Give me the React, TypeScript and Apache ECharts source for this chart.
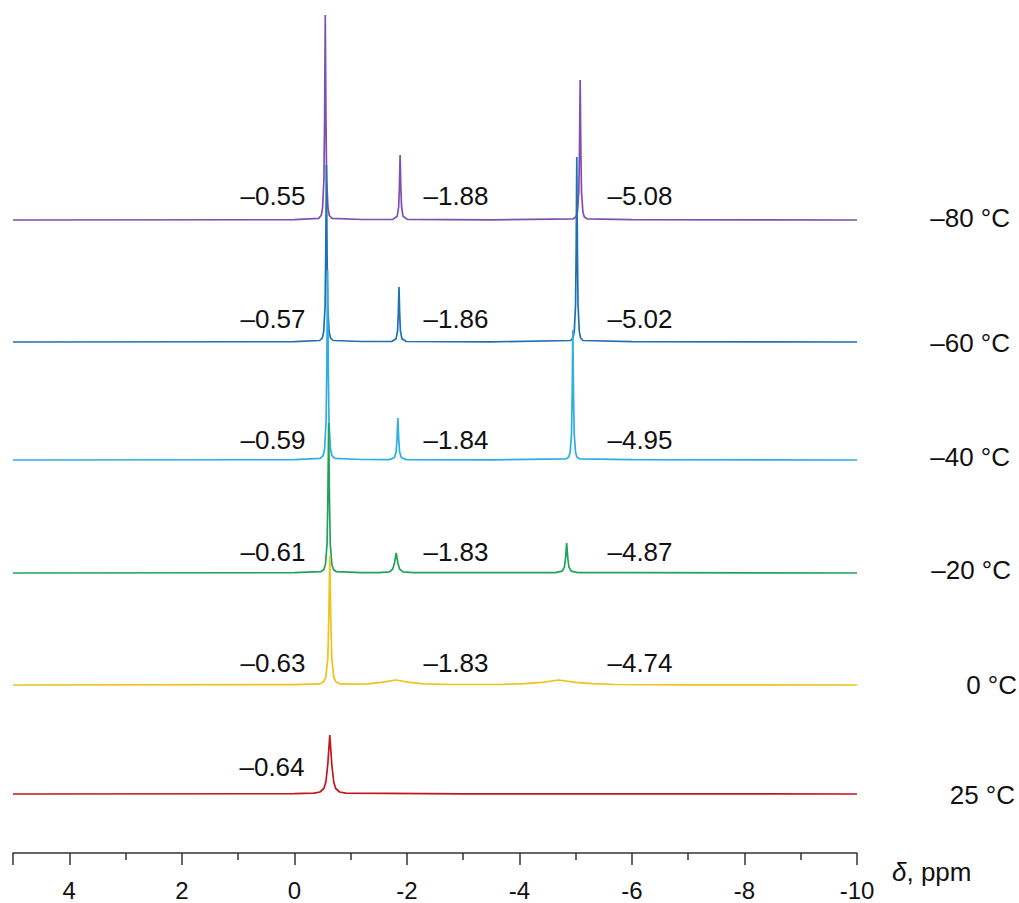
import React, { useEffect, useRef } from "react";
import * as echarts from "echarts";

// Temperature of each trace (top to bottom)
const temperatures = ["–80 °C", "–60 °C", "–40 °C", "–20 °C", "0 °C", "25 °C"];
// Vertical stacking offsets of each trace baseline (intensity units)
const baselineOffsets = [633, 511, 393, 280, 168, 59];
// Chemical-shift annotations for each trace
const shiftLabels = [
  ["–0.55", "–1.88", "–5.08"],
  ["–0.57", "–1.86", "–5.02"],
  ["–0.59", "–1.84", "–4.95"],
  ["–0.61", "–1.83", "–4.87"],
  ["–0.63", "–1.83", "–4.74"],
  ["–0.64"],
];
const xTicks = { min: -10, max: 5, interval: 2 };

// [ppm, intensity above baseline]
const specM80: [number, number][] = [
  [5, 0], [0, 0.3],
  [-0.43, 1.6], [-0.478, 4.5], [-0.502, 12], [-0.526, 41], [-0.538, 102], [-0.55, 205], [-0.562, 102], [-0.574, 41], [-0.598, 12], [-0.622, 4.5], [-0.67, 1.6],
  [-1.2, 0.5],
  [-1.75, 0.6], [-1.828, 3.8], [-1.854, 13], [-1.867, 32], [-1.88, 65], [-1.893, 32], [-1.906, 13], [-1.932, 3.8], [-2.01, 0.6],
  [-3.5, 0.2],
  [-4.96, 1.2], [-5.008, 3.2], [-5.032, 8.3], [-5.056, 28], [-5.068, 70], [-5.08, 140], [-5.092, 70], [-5.104, 28], [-5.128, 8.3], [-5.152, 3.2], [-5.2, 1.2],
  [-6, 0.3], [-10, 0],
];
const specM60: [number, number][] = [
  [5, 0], [0, 0.3],
  [-0.45, 1.5], [-0.498, 4], [-0.522, 10.4], [-0.546, 35], [-0.558, 88], [-0.57, 177], [-0.582, 88], [-0.594, 35], [-0.618, 10.4], [-0.642, 4], [-0.69, 1.5],
  [-1.2, 0.5],
  [-1.73, 0.5], [-1.808, 3.2], [-1.834, 11], [-1.847, 27], [-1.86, 55], [-1.873, 27], [-1.886, 11], [-1.912, 3.2], [-1.99, 0.5],
  [-3.5, 0.2],
  [-4.91, 1.5], [-4.954, 4.2], [-4.976, 10.9], [-4.998, 37], [-5.009, 92], [-5.02, 185], [-5.031, 92], [-5.042, 37], [-5.064, 10.9], [-5.086, 4.2], [-5.13, 1.5],
  [-6, 0.3], [-10, 0],
];
const specM40: [number, number][] = [
  [5, 0], [0, 0.3],
  [-0.46, 1.6], [-0.512, 4.3], [-0.538, 11.2], [-0.564, 38], [-0.577, 95], [-0.59, 190], [-0.603, 95], [-0.616, 38], [-0.642, 11.2], [-0.668, 4.3], [-0.72, 1.6],
  [-1.2, 0.5],
  [-1.69, 0.4], [-1.78, 2.5], [-1.81, 8.4], [-1.825, 21], [-1.84, 42], [-1.855, 21], [-1.87, 8.4], [-1.9, 2.5], [-1.99, 0.4],
  [-3.5, 0.2],
  [-4.83, 1.1], [-4.878, 3], [-4.902, 7.7], [-4.926, 26], [-4.938, 65], [-4.95, 130], [-4.962, 65], [-4.974, 26], [-4.998, 7.7], [-5.022, 3], [-5.07, 1.1],
  [-6, 0.3], [-10, 0],
];
const specM20: [number, number][] = [
  [5, 0], [0, 0.3],
  [-0.47, 1.3], [-0.526, 3.5], [-0.554, 8.9], [-0.582, 30], [-0.596, 75], [-0.61, 150], [-0.624, 75], [-0.638, 30], [-0.666, 8.9], [-0.694, 3.5], [-0.75, 1.3],
  [-1.2, 0.4],
  [-1.51, 0.3], [-1.69, 1.2], [-1.75, 4], [-1.78, 10], [-1.81, 20], [-1.84, 10], [-1.87, 4], [-1.93, 1.2], [-2.11, 0.3],
  [-3.5, 0.3],
  [-4.64, 0.4], [-4.76, 1.8], [-4.8, 6], [-4.82, 15], [-4.84, 30], [-4.86, 15], [-4.88, 6], [-4.92, 1.8], [-5.04, 0.4],
  [-6, 0.3], [-10, 0],
];
const spec0: [number, number][] = [
  [5, 0], [0, 0.4],
  [-0.45, 1.1], [-0.522, 3.2], [-0.558, 7.6], [-0.594, 26], [-0.612, 65], [-0.63, 129], [-0.648, 65], [-0.666, 26], [-0.702, 7.6], [-0.738, 3.2], [-0.81, 1.1],
  [-1.0, 0.8], [-1.3, 1.2], [-1.55, 2.6], [-1.8, 5], [-2.05, 2.6], [-2.3, 1.2], [-2.8, 0.5],
  [-3.7, 0.6], [-4.1, 1.4], [-4.4, 2.6], [-4.7, 5], [-5.0, 2.6], [-5.3, 1.3], [-5.7, 0.5],
  [-7, 0.2], [-10, 0],
];
const spec25: [number, number][] = [
  [5, 0], [0, 0.3],
  [-0.35, 0.8], [-0.455, 2], [-0.525, 5.5], [-0.56, 12], [-0.595, 30], [-0.63, 59], [-0.665, 30], [-0.7, 12], [-0.735, 5.5], [-0.805, 2], [-0.91, 0.8],
  [-3, 0.2], [-10, 0],
];
const spectra = [specM80, specM60, specM40, specM20, spec0, spec25];

const lineColors = ["#7d50b1", "#2070b4", "#2eaee2", "#22a259", "#f0c21c", "#c2161d"];
const FONT = "'Liberation Sans', Arial, Helvetica, sans-serif";
const labelX = [273, 456, 640];
const labelY = [196, 319, 440, 552, 663, 767];
const tempX = [1010, 1010, 1010, 1011, 1017, 1015];
const tempY = [218, 343, 457, 570, 685, 795];

export default function App() {
  const ref = useRef<HTMLDivElement>(null);
  useEffect(() => {
    if (!ref.current) return;
    const chart = echarts.init(ref.current, null, { renderer: "svg" });
    const series = spectra.map((spec, i) => ({
      type: "line",
      name: temperatures[i],
      data: spec.map(([x, v]) => [x, v + baselineOffsets[i]]),
      showSymbol: false,
      symbol: "none",
      lineStyle: { color: lineColors[i], width: 1.7 },
      z: 2 + i,
      silent: true,
    }));
    const graphics: any[] = [];
    shiftLabels.forEach((row, i) => {
      row.forEach((t, j) => {
        graphics.push({
          type: "text",
          x: i === 5 ? 272 : labelX[j],
          y: labelY[i],
          style: {
            text: t, fill: "#111", font: `26px ${FONT}`,
            textAlign: "center", textVerticalAlign: "middle", align: "center", verticalAlign: "middle",
          },
        });
      });
      graphics.push({
        type: "text",
        x: tempX[i],
        y: tempY[i],
        style: {
          text: temperatures[i], fill: "#111", font: `26px ${FONT}`,
          textAlign: "right", textVerticalAlign: "middle", align: "right", verticalAlign: "middle",
        },
      });
    });
    graphics.push({
      type: "text",
      x: 892,
      y: 872,
      style: {
        text: "{i|δ}, ppm",
        fill: "#111",
        font: `26px ${FONT}`,
        textVerticalAlign: "middle",
        verticalAlign: "middle",
        rich: { i: { fontStyle: "italic", fontSize: 26, fontFamily: FONT, fill: "#111" } },
      },
    });
    chart.setOption({
      animation: false,
      backgroundColor: "#ffffff",
      grid: { left: 13, right: 162, top: 0, bottom: 50, containLabel: false },
      xAxis: {
        type: "value",
        min: xTicks.min,
        max: xTicks.max,
        interval: xTicks.interval,
        inverse: true,
        splitLine: { show: false },
        axisLine: { show: true, onZero: false, lineStyle: { color: "#333", width: 1.5 } },
        axisTick: { show: true, length: 12, lineStyle: { color: "#333", width: 1.5 } },
        minorTick: { show: true, splitNumber: 2, length: 7, lineStyle: { color: "#333", width: 1.5 } },
        axisLabel: {
          color: "#111", fontSize: 24, fontFamily: FONT, margin: 25,
          showMaxLabel: false, showMinLabel: true,
          formatter: (v: number) => (v > 4.5 ? "" : String(v)),
        },
      },
      yAxis: { type: "value", min: 0, max: 853, show: false },
      series,
      graphic: graphics,
    });
    return () => chart.dispose();
  }, []);
  return (
    <div style={{ position: "fixed", left: 0, top: 0, width: 1019, height: 903, background: "#fff" }}>
      <div ref={ref} style={{ width: 1019, height: 903 }} />
    </div>
  );
}
